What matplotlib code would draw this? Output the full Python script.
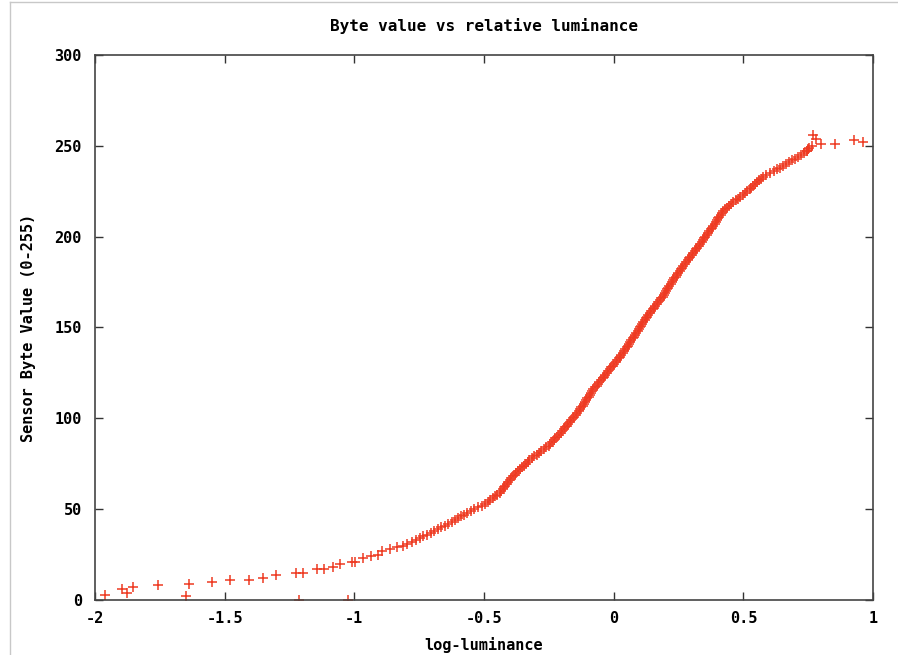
import matplotlib.pyplot as plt
from matplotlib.lines import Line2D

# sparse points at the dark end
x_low = [-1.961, -1.897, -1.878, -1.852, -1.756, -1.649, -1.636, -1.547, -1.480,
         -1.406, -1.352, -1.301, -1.224, -1.213, -1.199, -1.145, -1.117, -1.081,
         -1.055, -1.023, -1.010, -0.997, -0.967, -0.935, -0.907]
y_low = [3, 6, 4, 7, 8, 2, 9, 10, 11,
         11, 12, 14, 15, 0, 15, 17, 17, 18,
         20, 0, 21, 21, 23, 24, 25]

# dense part of the curve, one point per byte value 27..249
y_mid = list(range(27, 250))
x_mid = [
    -0.893, -0.864, -0.835, -0.814, -0.797, -0.779, -0.762, -0.748, -0.734, -0.720,
    -0.706, -0.692, -0.679, -0.665, -0.651, -0.637, -0.624, -0.612, -0.600, -0.588,
    -0.576, -0.564, -0.551, -0.537, -0.523, -0.509, -0.495, -0.485, -0.475, -0.466,
    -0.457, -0.448, -0.439, -0.434, -0.428, -0.423, -0.418, -0.412, -0.407, -0.401,
    -0.396, -0.389, -0.382, -0.375, -0.368, -0.361, -0.353, -0.346, -0.339, -0.332,
    -0.325, -0.316, -0.306, -0.297, -0.288, -0.279, -0.269, -0.260, -0.251, -0.244,
    -0.237, -0.231, -0.225, -0.218, -0.212, -0.205, -0.199, -0.193, -0.187, -0.181,
    -0.175, -0.169, -0.163, -0.158, -0.152, -0.147, -0.141, -0.135, -0.130, -0.125,
    -0.120, -0.116, -0.111, -0.106, -0.102, -0.097, -0.092, -0.087, -0.083, -0.078,
    -0.072, -0.066, -0.061, -0.055, -0.049, -0.043, -0.038, -0.032, -0.026, -0.020,
    -0.015, -0.009, -0.003, 0.002, 0.008, 0.014, 0.019, 0.025, 0.030, 0.036,
    0.041, 0.045, 0.050, 0.054, 0.059, 0.064, 0.068, 0.073, 0.078, 0.082,
    0.087, 0.092, 0.096, 0.101, 0.106, 0.110, 0.115, 0.120, 0.125, 0.129,
    0.134, 0.139, 0.145, 0.150, 0.156, 0.161, 0.167, 0.172, 0.178, 0.183,
    0.189, 0.193, 0.197, 0.201, 0.205, 0.210, 0.215, 0.220, 0.224, 0.229,
    0.234, 0.239, 0.244, 0.249, 0.254, 0.259, 0.264, 0.269, 0.274, 0.280,
    0.285, 0.291, 0.296, 0.302, 0.307, 0.313, 0.318, 0.323, 0.329, 0.334,
    0.339, 0.344, 0.349, 0.354, 0.359, 0.364, 0.369, 0.374, 0.379, 0.384,
    0.389, 0.393, 0.398, 0.402, 0.407, 0.412, 0.417, 0.422, 0.429, 0.436,
    0.443, 0.452, 0.461, 0.470, 0.479, 0.489, 0.498, 0.507, 0.516, 0.524,
    0.531, 0.538, 0.546, 0.553, 0.560, 0.568, 0.575, 0.589, 0.603, 0.617,
    0.631, 0.643, 0.654, 0.665, 0.676, 0.687, 0.699, 0.710, 0.722, 0.733,
    0.745, 0.749, 0.753,
]

# scattered points at the bright end
x_high = [0.745, 0.764, 0.768, 0.781, 0.799, 0.855, 0.928, 0.961]
y_high = [247, 250, 256, 254, 251, 251, 253, 252]

xs = x_low + x_mid + x_high
ys = y_low + y_mid + y_high

x_ticks = [-2, -1.5, -1, -0.5, 0, 0.5, 1]
x_labels = ['-2', '-1.5', '-1', '-0.5', '0', '0.5', '1']
y_ticks = [0, 50, 100, 150, 200, 250, 300]

font = {'family': 'DejaVu Sans Mono', 'weight': 'bold', 'size': 11}
title_font = dict(font, size=11.5)

fig = plt.figure(figsize=(8.98, 6.55), dpi=100)
ax = fig.add_axes([95 / 898, 1 - 600 / 655, 778 / 898, 545 / 655])

ax.plot(xs, ys, linestyle='none', marker='+', markersize=7.5,
        markeredgewidth=1.1, color='#ee3a22')

ax.set_xlim(-2, 1)
ax.set_ylim(0, 300)
ax.set_xticks(x_ticks)
ax.set_xticklabels(x_labels, fontdict=font)
ax.set_yticks(y_ticks)
ax.set_yticklabels([str(v) for v in y_ticks], fontdict=font)
ax.tick_params(axis='x', direction='in', length=6, width=1, top=True,
               color='#333333', pad=8)
ax.tick_params(axis='y', direction='in', length=6, width=1, right=True,
               color='#333333', pad=9.5)
for s in ax.spines.values():
    s.set_linewidth(1.2)
    s.set_color('#444444')

ax.set_title('Byte value vs relative luminance', fontdict=title_font, pad=17)
ax.set_xlabel('log-luminance', fontdict=font, labelpad=8)
ax.set_ylabel('Sensor Byte Value (0-255)', fontdict=font, labelpad=13)

# light frame of the screenshot
fig.add_artist(Line2D([10 / 898, 10 / 898], [0, 1 - 2 / 655], color='#c8c8c8', lw=1))
fig.add_artist(Line2D([10 / 898, 1], [1 - 2 / 655, 1 - 2 / 655], color='#c8c8c8', lw=1))

fig.savefig('out.png', dpi=100)
